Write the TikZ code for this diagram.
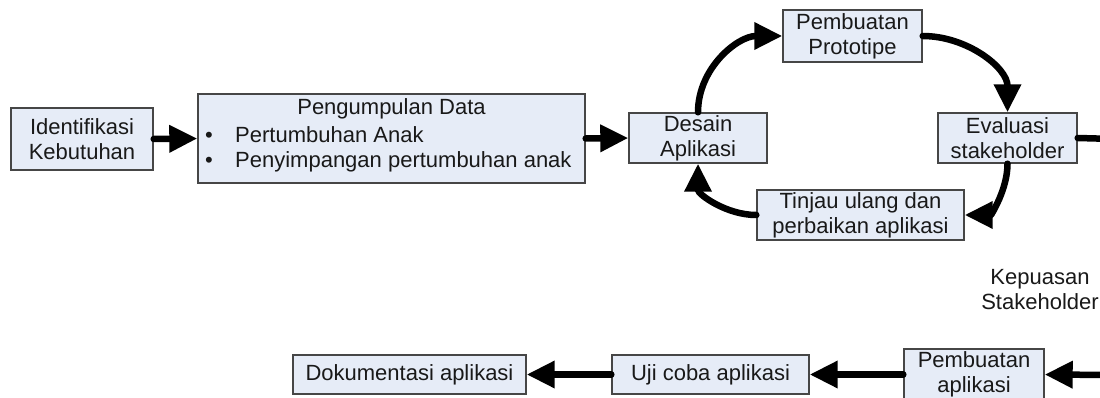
\documentclass[tikz,border=0pt]{standalone}
\usepackage{fontspec}
\setmainfont{Liberation Sans}
\usetikzlibrary{arrows.meta}
\definecolor{boxfill}{RGB}{230,236,247}
\definecolor{boxline}{RGB}{70,70,70}
\definecolor{txtcol}{RGB}{25,25,25}
\newcommand{\fsz}{\fontsize{22}{25}\selectfont}
\tikzset{
  box/.style={draw=boxline, line width=1.4pt, fill=boxfill, text=txtcol, font=\fsz, align=center, inner sep=0pt},
  txt/.style={text=txtcol, font=\fsz, inner sep=0pt},
  conn/.style={line width=6.5pt, line cap=round, draw=black},
  arr/.style={conn, -{Triangle[length=28pt,width=26pt]}},
}
\begin{document}
\begin{tikzpicture}[x=1pt,y=-1pt]
\useasboundingbox (0,0) rectangle (1100,398);
\clip (0,0) rectangle (1100,398);
% boxes
\node[box, minimum width=142, minimum height=62] (idk) at (82,139) {Identifikasi\\Kebutuhan};
\node[box, minimum width=387, minimum height=89] (data) at (391.5,138.5) {};
\node[txt, anchor=mid] (datat) at (391.5,112) {Pengumpulan Data};
\node[txt, anchor=mid] (bul1) at (209,140) {•};
\node[txt, anchor=mid west] (it1) at (235,140) {Pertumbuhan Anak};
\node[txt, anchor=mid] (bul2) at (209,165) {•};
\node[txt, anchor=mid west] (it2) at (235,165) {Penyimpangan pertumbuhan anak};
\node[box, minimum width=138, minimum height=50] (des) at (698,138) {Desain\\Aplikasi};
\node[box, minimum width=139, minimum height=52] (proto) at (852.5,36) {Pembuatan\\Prototipe};
\node[box, minimum width=139, minimum height=50] (eval) at (1007.5,138) {Evaluasi\\stakeholder};
\node[box, minimum width=207, minimum height=50] (tinj) at (860.5,215) {Tinjau ulang dan\\perbaikan aplikasi};
\node[txt, align=center] (kep) at (1040,289.5) {Kepuasan\\Stakeholder};
\node[box, minimum width=140, minimum height=51] (pa) at (974,374.5) {Pembuatan\\aplikasi};
\node[box, minimum width=197, minimum height=39] (uji) at (710.5,374.5) {Uji coba aplikasi};
\node[box, minimum width=233, minimum height=39] (dok) at (409.5,374.5) {Dokumentasi aplikasi};
\coordinate (offA) at (1115,139);
\coordinate (offB) at (1115,375);
% connectors
\draw[arr] (idk.east) -- (data.west);
\draw[arr] (data.east) -- (des.west);
\draw[arr] (des.north) to[out=90,in=180] (proto.west);
\draw[arr] (proto.east) to[out=0,in=90] (eval.north);
\draw[arr] (eval.south) to[out=-90,in=0] (tinj.east);
\draw[arr] (tinj.west) to[out=180,in=-90] (des.south);
\draw[conn] (eval.east) -- (offA);
\draw[arr] (offB) -- (pa.east);
\draw[arr] (pa.west) -- (uji.east);
\draw[arr] (uji.west) -- (dok.east);
\end{tikzpicture}
\end{document}
